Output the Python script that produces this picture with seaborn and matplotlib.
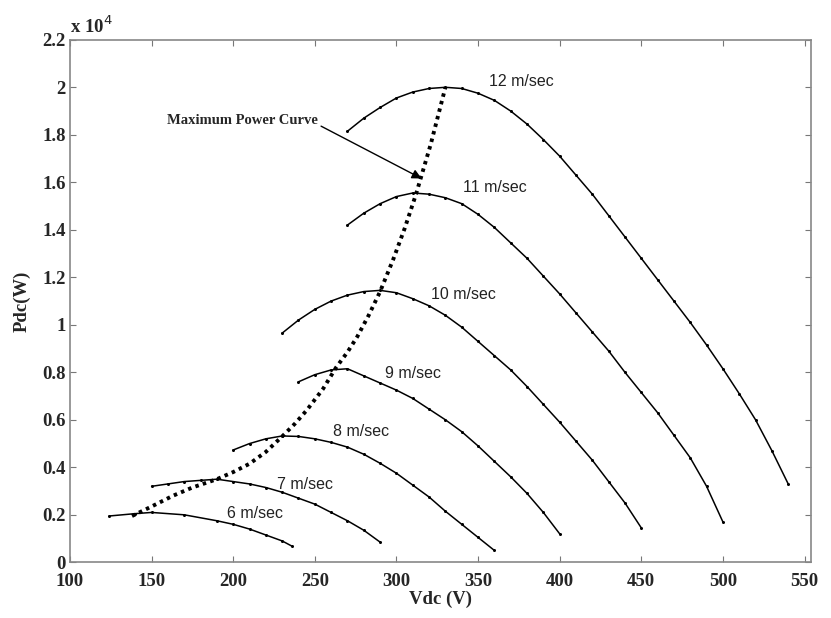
import numpy as np
import pandas as pd
import matplotlib
matplotlib.use('Agg')
import matplotlib.pyplot as plt
import seaborn as sns

# Pdc values are in units of 1e4 W
v6 = [124, 140, 150, 170, 190, 200, 210, 220, 230, 236]
p6 = [0.195, 0.205, 0.21, 0.20, 0.175, 0.16, 0.14, 0.115, 0.09, 0.068]

v7 = [150, 160, 170, 180, 190, 200, 210, 220, 230, 240, 250, 260, 270, 280, 290]
p7 = [0.32, 0.33, 0.34, 0.345, 0.35, 0.34, 0.33, 0.315, 0.295, 0.27, 0.245, 0.21, 0.175, 0.135, 0.085]

v8 = [200, 210, 220, 230, 240, 250, 260, 270, 280, 290, 300, 310, 320, 330, 340, 350, 360]
p8 = [0.473, 0.50, 0.52, 0.532, 0.53, 0.52, 0.505, 0.485, 0.455, 0.417, 0.375, 0.325, 0.275, 0.215, 0.16, 0.105, 0.05]

v9 = [240, 250, 260, 270, 280, 290, 300, 310, 320, 330, 340, 350, 360, 370, 380, 390, 400]
p9 = [0.76, 0.79, 0.81, 0.815, 0.785, 0.755, 0.725, 0.69, 0.645, 0.60, 0.55, 0.49, 0.425, 0.36, 0.29, 0.21, 0.12]

v10 = [230, 240, 250, 260, 270, 280, 290, 300, 310, 320, 330, 340, 350, 360, 370, 380, 390, 400, 410, 420, 430, 440, 450]
p10 = [0.965, 1.02, 1.065, 1.10, 1.125, 1.14, 1.145, 1.135, 1.11, 1.08, 1.04, 0.99, 0.93, 0.87, 0.81, 0.74, 0.665, 0.59, 0.51, 0.43, 0.34, 0.25, 0.145]

v11 = [270, 280, 290, 300, 310, 320, 330, 340, 350, 360, 370, 380, 390, 400, 410, 420, 430, 440, 450, 460, 470, 480, 490, 500]
p11 = [1.42, 1.47, 1.51, 1.54, 1.555, 1.55, 1.535, 1.51, 1.465, 1.41, 1.345, 1.28, 1.205, 1.13, 1.05, 0.97, 0.89, 0.80, 0.715, 0.63, 0.535, 0.44, 0.32, 0.17]

v12 = [270, 280, 290, 300, 310, 320, 330, 340, 350, 360, 370, 380, 390, 400, 410, 420, 430, 440, 450, 460, 470, 480, 490, 500, 510, 520, 530, 540]
p12 = [1.815, 1.87, 1.915, 1.955, 1.98, 1.995, 2.0, 1.995, 1.975, 1.945, 1.90, 1.845, 1.78, 1.71, 1.63, 1.55, 1.46, 1.37, 1.28, 1.19, 1.10, 1.01, 0.915, 0.815, 0.71, 0.60, 0.47, 0.33]

# maximum power curve (dotted)
mpp_v = [138, 150, 163, 175, 190, 200, 210, 220, 230, 238, 245, 255, 263, 270, 276, 283, 290, 298, 305, 312, 321, 330]
mpp_p = [0.195, 0.235, 0.28, 0.315, 0.35, 0.38, 0.415, 0.465, 0.53, 0.585, 0.64, 0.73, 0.82, 0.885, 0.95, 1.04, 1.14, 1.275, 1.405, 1.55, 1.76, 2.0]

speed_labels = ['6 m/sec', '7 m/sec', '8 m/sec', '9 m/sec', '10 m/sec', '11 m/sec', '12 m/sec']
label_pos = [(196, 0.205), (227, 0.328), (261, 0.55), (293, 0.793), (321, 1.126), (341, 1.58), (357, 2.023)]

curves = [(v6, p6), (v7, p7), (v8, p8), (v9, p9), (v10, p10), (v11, p11), (v12, p12)]

sns.set_style('ticks')
serif = ['Liberation Serif', 'DejaVu Serif']
sans = ['Liberation Sans', 'DejaVu Sans']

fig = plt.figure(figsize=(8.31, 6.18), dpi=100)
ax = fig.add_axes([0.0842, 0.0901, 0.8918, 0.8455])

for v, p in curves:
    df = pd.DataFrame({'Vdc': v, 'Pdc': p})
    sns.lineplot(data=df, x='Vdc', y='Pdc', ax=ax, color='black', linewidth=1.1,
                 marker='o', markersize=2.2, markeredgewidth=0, sort=False, estimator=None)

mpp = pd.DataFrame({'Vdc': mpp_v, 'Pdc': mpp_p})
sns.lineplot(data=mpp, x='Vdc', y='Pdc', ax=ax, color='black', linewidth=2.8,
             linestyle=(0, (0.9, 1.1)), sort=False, estimator=None)

for lab, (x, y) in zip(speed_labels, label_pos):
    ax.text(x, y, lab, family=sans, fontsize=11.5, color='#222222', va='center', ha='left')

ax.annotate('Maximum Power Curve', xy=(315.4, 1.616), xytext=(159.4, 1.86),
            family=serif, fontweight='bold', fontsize=10.5, va='center', ha='left',
            arrowprops=dict(arrowstyle='-|>', color='black', lw=1.0, mutation_scale=14,
                            shrinkA=0, shrinkB=0, relpos=(1.0, 0.2)))

ax.set_xlim(100, 554)
ax.set_ylim(0, 2.2)
ax.set_xticks(np.arange(100, 551, 50))
ax.set_yticks(np.arange(0, 2.21, 0.2))
ax.set_yticklabels(['0', '0.2', '0.4', '0.6', '0.8', '1', '1.2', '1.4', '1.6', '1.8', '2', '2.2'])
for t in ax.get_xticklabels() + ax.get_yticklabels():
    t.set_family(serif)
    t.set_fontweight('bold')
    t.set_fontsize(13.5)

ax.tick_params(direction='in', length=4, width=0.8, color='#777777', top=True, right=True, pad=3)
ax.tick_params(axis='x', pad=8)
for s in ax.spines.values():
    s.set_visible(True)
    s.set_color('#888888')
    s.set_linewidth(1.2)

ax.set_xlabel('Vdc (V)', family=serif, fontweight='bold', fontsize=13.5, labelpad=0)
ax.set_ylabel('Pdc(W)', family=serif, fontweight='bold', fontsize=13.5, labelpad=8)
ax.text(0.0, 1.005, 'x 10$^{4}$', transform=ax.transAxes, family=serif, fontweight='bold',
        fontsize=13.5, va='bottom', ha='left')

fig.savefig('out.png', dpi=100)
